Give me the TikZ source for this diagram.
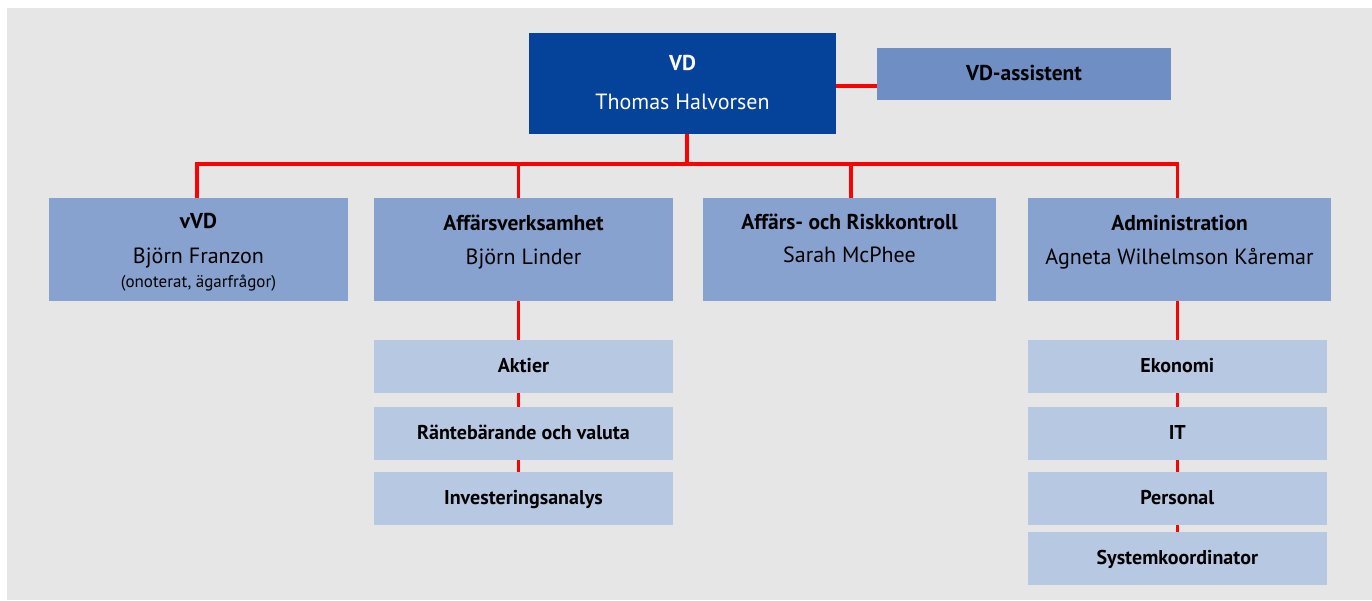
\documentclass[tikz,border=0pt]{standalone}
\usepackage{fontspec}
\setmainfont{PT Sans}
\pgfdeclarelayer{bg}
\pgfdeclarelayer{lines}
\pgfsetlayers{bg,lines,main}
\definecolor{bggray}{HTML}{E6E6E6}
\definecolor{vdblue}{HTML}{05429A}
\definecolor{asblue}{HTML}{6F8FC4}
\definecolor{lvblue}{HTML}{87A2CF}
\definecolor{subblue}{HTML}{B7C8E2}
\definecolor{linkred}{HTML}{FF0000}
\begin{document}
\begin{tikzpicture}[x=1pt,y=-1pt,
  vdbox/.style={fill=vdblue, minimum width=307pt, minimum height=101pt, inner sep=0pt, outer sep=0pt},
  asbox/.style={fill=asblue, minimum width=294pt, minimum height=52pt, inner sep=0pt, outer sep=0pt,
    font=\bfseries\fontsize{21.5}{23}\selectfont, text height=13pt, text depth=0pt},
  lvbox/.style={fill=lvblue, minimum height=103pt, inner sep=0pt, outer sep=0pt},
  subbox/.style={fill=subblue, minimum width=299pt, minimum height=53pt, inner sep=0pt, outer sep=0pt,
    font=\bfseries\fontsize{20}{22}\selectfont, text height=12pt, text depth=0pt},
  conn/.style={draw=linkred, line width=3.5pt},
  title/.style={font=\bfseries\fontsize{21.5}{23}\selectfont, anchor=base, inner sep=0pt},
  pname/.style={font=\fontsize{22}{25}\selectfont, anchor=base, inner sep=0pt},
  psmall/.style={font=\fontsize{17}{19}\selectfont, anchor=base, inner sep=0pt}
]
\useasboundingbox (0,0) rectangle (1372,600);
\begin{pgfonlayer}{bg}
  \fill[bggray] (7,8) rectangle (1372,600);
\end{pgfonlayer}

% boxes
\node[vdbox] (vd) at (682.5,83) {};
\node[asbox] (as) at (1024,74) {VD-assistent};
\node[lvbox, minimum width=299pt] (vvd) at (198.5,249.5) {};
\node[lvbox, minimum width=299pt] (aff) at (523.5,249.5) {};
\node[lvbox, minimum width=293pt] (ark) at (849.5,249.5) {};
\node[lvbox, minimum width=303pt] (adm) at (1179.5,249.5) {};

\node[subbox] (akt) at (523.5,366.5) {Aktier};
\node[subbox] (rnt) at (523.5,433.5) {Räntebärande och valuta};
\node[subbox] (inv) at (523.5,498.5) {Investeringsanalys};
\node[subbox] (eko) at (1177.3,366.5) {Ekonomi};
\node[subbox] (it)  at (1177.3,433.5) {IT};
\node[subbox] (per) at (1177.3,498.5) {Personal};
\node[subbox] (sys) at (1177.3,558.5) {Systemkoordinator};

% texts
\node[title, text=white] (vdT) at (682.5,70) {VD};
\node[pname, text=white] (vdN) at (682.5,109) {Thomas Halvorsen};
\node[title] (vvdT) at (198.5,228) {vVD};
\node[pname] (vvdN) at (198.5,263) {Björn Franzon};
\node[psmall] (vvdS) at (198.5,287) {(onoterat, ägarfrågor)};
\node[title] (affT) at (523.5,230) {Affärsverksamhet};
\node[pname] (affN) at (523.5,264) {Björn Linder};
\node[title] (arkT) at (849.5,229) {Affärs- och Riskkontroll};
\node[pname] (arkN) at (849.5,262) {Sarah McPhee};
\node[title] (admT) at (1179.5,230) {Administration};
\node[pname] (admN) at (1179.5,264) {Agneta Wilhelmson Kåremar};

% connectors
\coordinate (bus) at (0,164);
\coordinate (dvd) at ([xshift=4.5pt]vd.south);
\coordinate (d1) at ([xshift=-1.5pt]vvd.north);
\coordinate (d2) at ([xshift=-5pt]aff.north);
\coordinate (d3) at ([xshift=1.5pt]ark.north);
\coordinate (d4) at ([xshift=-2pt]adm.north);
\coordinate (s2) at ([xshift=-5pt]aff.south);
\coordinate (s4) at ([xshift=-2pt]adm.south);
\begin{pgfonlayer}{lines}
  \draw[conn] (dvd) -- (dvd |- bus);
  \draw[conn] (d1) -- (d1 |- bus) -- (d4 |- bus) -- (d4);
  \draw[conn] (d2) -- (d2 |- bus);
  \draw[conn] (d3) -- (d3 |- bus);
  \draw[conn] ([yshift=-3pt]vd.east) -- ([yshift=-3pt]vd.east -| as.west);
  \draw[conn] (s2) -- (s2 |- inv.north);
  \draw[conn] (s4) -- (s4 |- sys.north);
\end{pgfonlayer}
\end{tikzpicture}
\end{document}
